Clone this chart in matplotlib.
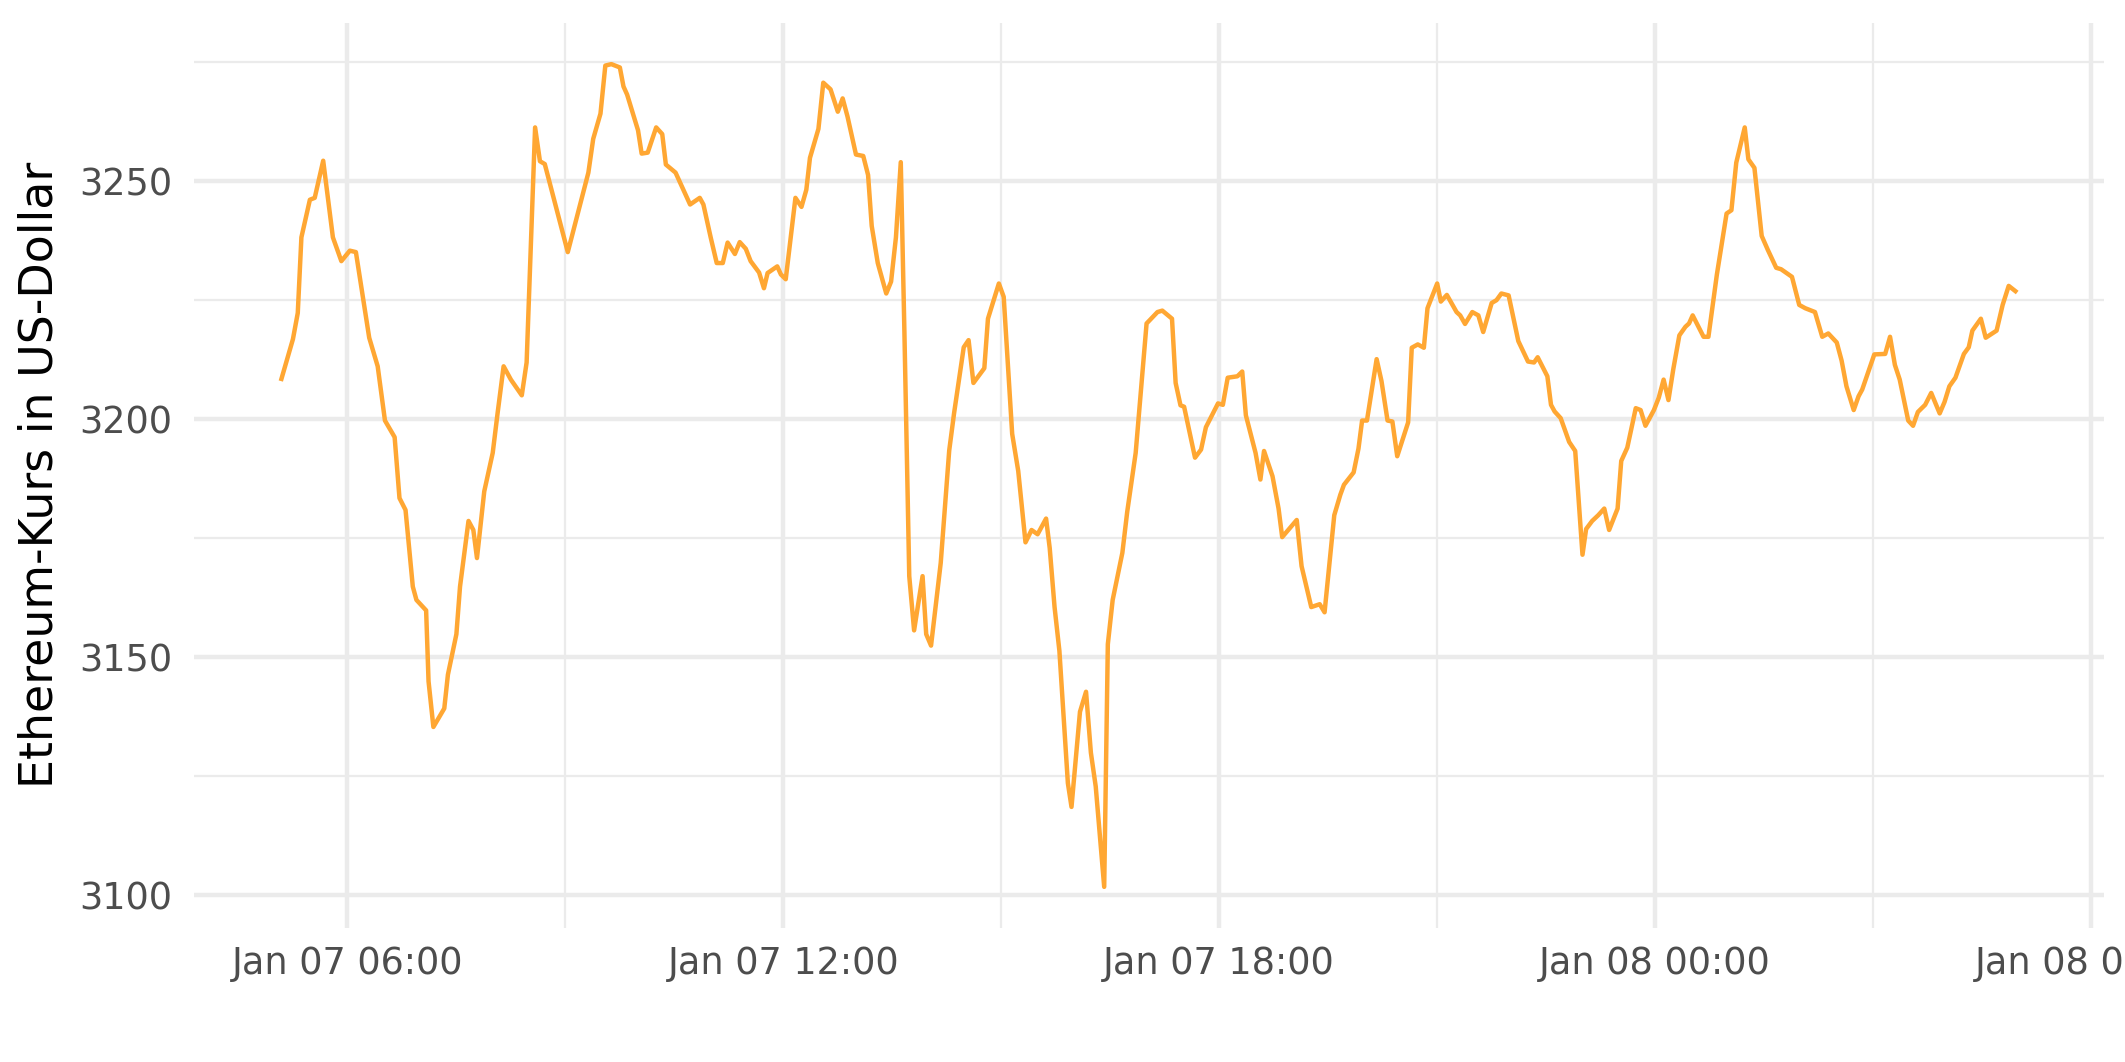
import matplotlib
matplotlib.use("Agg")
import matplotlib.pyplot as plt
import matplotlib.dates as mdates
import matplotlib.ticker as mticker
import pandas as pd

# Ethereum price, Jan 07 -> Jan 08 (times as HH:MM)
times_jan07 = [
    "05:05", "05:15", "05:19", "05:22", "05:29", "05:33", "05:40", "05:48", "05:55", "06:02",
    "06:07", "06:18", "06:25", "06:31", "06:39", "06:43", "06:48", "06:54", "06:57", "07:05",
    "07:07", "07:11", "07:20", "07:23", "07:30", "07:33", "07:40", "07:44", "07:47", "07:53",
    "08:00", "08:04", "08:09", "08:15", "08:24", "08:28", "08:35", "08:39", "08:43", "08:53",
    "09:02", "09:19", "09:23", "09:29", "09:33", "09:38", "09:45", "09:48", "09:51", "10:00",
    "10:03", "10:08", "10:15", "10:20", "10:23", "10:31", "10:43", "10:51", "10:54", "11:00",
    "11:05", "11:10", "11:14", "11:20", "11:24", "11:29", "11:33", "11:40", "11:44", "11:47",
    "11:55", "11:58", "12:02", "12:10", "12:15", "12:19", "12:22", "12:29", "12:33", "12:39",
    "12:45", "12:49", "12:53", "13:00", "13:06", "13:10", "13:13", "13:18", "13:25", "13:29",
    "13:33", "13:37", "13:40", "13:44", "13:48", "13:55", "13:58", "14:02", "14:10", "14:17",
    "14:21", "14:29", "14:33", "14:37", "14:46", "14:49", "14:58", "15:02", "15:09", "15:14",
    "15:20", "15:25", "15:30", "15:37", "15:40", "15:44", "15:48", "15:55", "15:58", "16:05",
    "16:10", "16:14", "16:18", "16:25", "16:28", "16:32", "16:40", "16:44", "16:51", "17:00",
    "17:09", "17:13", "17:21", "17:24", "17:28", "17:31", "17:40", "17:45", "17:49", "17:59",
    "18:03", "18:07", "18:15", "18:19", "18:22", "18:30", "18:34", "18:37", "18:44", "18:49",
    "18:52", "19:04", "19:08", "19:16", "19:23", "19:27", "19:35", "19:40", "19:43", "19:51",
    "19:55", "19:58", "20:02", "20:10", "20:14", "20:19", "20:23", "20:27", "20:36", "20:39",
    "20:44", "20:49", "20:52", "21:00", "21:03", "21:08", "21:16", "21:19", "21:23", "21:29",
    "21:34", "21:38", "21:45", "21:49", "21:53", "21:59", "22:07", "22:15", "22:20", "22:23",
    "22:31", "22:34", "22:37", "22:42", "22:49", "22:54", "23:00", "23:03", "23:08", "23:13",
    "23:18", "23:22", "23:29", "23:32", "23:37", "23:44", "23:48", "23:52", "23:59",
]
prices_jan07 = [
    3208.0, 3216.8, 3222.3, 3238.2, 3246.1, 3246.5, 3254.3, 3238.2, 3233.2, 3235.4,
    3235.1, 3217.1, 3211.1, 3199.7, 3196.2, 3183.4, 3180.9, 3164.8, 3162.0, 3159.8,
    3144.9, 3135.3, 3139.2, 3146.3, 3154.8, 3164.8, 3178.6, 3176.7, 3170.8, 3184.8,
    3192.9, 3201.2, 3211.1, 3208.3, 3205.0, 3211.9, 3261.3, 3254.2, 3253.6, 3243.9,
    3235.1, 3251.8, 3258.9, 3264.2, 3274.3, 3274.6, 3273.9, 3269.9, 3268.2, 3260.7,
    3255.8, 3256.0, 3261.3, 3259.9, 3253.5, 3251.8, 3245.1, 3246.5, 3245.1, 3238.2,
    3232.8, 3232.8, 3237.1, 3234.7, 3237.2, 3235.8, 3233.2, 3230.8, 3227.5, 3230.7,
    3232.1, 3230.4, 3229.4, 3246.5, 3244.6, 3248.2, 3254.9, 3261.0, 3270.7, 3269.3,
    3264.6, 3267.4, 3263.6, 3255.6, 3255.3, 3251.3, 3240.6, 3232.8, 3226.4, 3228.9,
    3238.2, 3254.0, 3218.3, 3167.0, 3155.6, 3167.0, 3154.8, 3152.4, 3169.8, 3193.4,
    3201.2, 3215.1, 3216.6, 3207.6, 3210.7, 3221.1, 3228.5, 3225.7, 3196.9, 3189.1,
    3174.1, 3176.7, 3175.8, 3179.1, 3172.9, 3160.5, 3151.3, 3123.5, 3118.5, 3138.5,
    3142.7, 3129.9, 3122.8, 3101.7, 3152.7, 3162.0, 3171.9, 3180.5, 3192.9, 3220.1,
    3222.5, 3222.8, 3221.1, 3207.6, 3202.9, 3202.6, 3191.9, 3193.6, 3198.3, 3203.3,
    3203.0, 3208.7, 3209.0, 3210.0, 3200.8, 3192.9, 3187.3, 3193.3, 3188.0, 3181.2,
    3175.2, 3178.8, 3169.1, 3160.5, 3161.1, 3159.4, 3179.8, 3184.1, 3186.2, 3188.8,
    3193.8, 3199.7, 3199.7, 3212.6, 3208.0, 3199.7, 3199.5, 3192.2, 3199.3, 3215.0,
    3215.7, 3215.0, 3223.3, 3228.5, 3224.7, 3226.1, 3222.5, 3221.8, 3220.0, 3222.5,
    3221.8, 3218.3, 3224.4, 3225.0, 3226.4, 3226.0, 3216.4, 3212.1, 3211.9, 3213.0,
    3209.0, 3203.0, 3201.6, 3200.2, 3195.2, 3193.3, 3171.5, 3176.9, 3178.6, 3179.8,
    3181.2, 3176.7, 3181.2, 3191.2, 3194.0, 3202.3, 3201.9, 3198.6, 3201.9,
]
times_jan08 = [
    "00:03", "00:07", "00:11", "00:15", "00:20", "00:25", "00:28", "00:31", "00:40", "00:44",
    "00:51", "00:59", "01:03", "01:07", "01:14", "01:17", "01:22", "01:28", "01:33", "01:40",
    "01:44", "01:53", "01:59", "02:04", "02:12", "02:18", "02:23", "02:30", "02:34", "02:38",
    "02:44", "02:48", "02:51", "03:01", "03:10", "03:14", "03:18", "03:22", "03:29", "03:33",
    "03:37", "03:43", "03:48", "03:55", "03:59", "04:03", "04:08", "04:15", "04:19", "04:22",
    "04:29", "04:33", "04:42", "04:47", "04:52", "04:59",
]
prices_jan08 = [
    3204.5, 3208.3, 3204.0, 3210.5, 3217.6, 3219.4, 3220.1, 3221.8, 3217.3, 3217.3,
    3230.4, 3243.2, 3243.9, 3253.9, 3261.3, 3254.6, 3252.8, 3238.5, 3235.6, 3231.8,
    3231.5, 3229.9, 3224.0, 3223.3, 3222.5, 3217.3, 3218.0, 3216.1, 3212.3, 3206.9,
    3201.9, 3204.8, 3206.2, 3213.6, 3213.7, 3217.3, 3211.4, 3208.3, 3199.7, 3198.6,
    3201.5, 3203.0, 3205.5, 3201.2, 3203.6, 3206.9, 3208.7, 3213.7, 3215.1, 3218.6,
    3221.1, 3217.1, 3218.6, 3224.0, 3228.0, 3226.6,
]

y_major = [3100, 3150, 3200, 3250]
y_minor = [3125, 3175, 3225, 3275]
y_title = "Ethereum-Kurs in US-Dollar"

timestamps = pd.to_datetime(["2025-01-07 " + t for t in times_jan07] +
                            ["2025-01-08 " + t for t in times_jan08])
prices = prices_jan07 + prices_jan08

plt.rcParams["font.family"] = ["DejaVu Sans"]

W, H = 2125, 1062
fig = plt.figure(figsize=(W / 300, H / 300), dpi=300)
left, right, top, bottom = 194, 2104, 23, 928
ax = fig.add_axes([left / W, 1 - bottom / H, (right - left) / W, (bottom - top) / H])

ax.plot(timestamps, prices, color="#FFA733", lw=1.07, solid_joinstyle="round",
        solid_capstyle="butt", zorder=3)
ax.margins(x=0.05, y=0.05)

ax.xaxis.set_major_locator(mdates.HourLocator(byhour=[0, 6, 12, 18]))
ax.xaxis.set_minor_locator(mdates.HourLocator(byhour=[3, 9, 15, 21]))
ax.xaxis.set_major_formatter(mdates.DateFormatter("%b %d %H:%M"))
ax.yaxis.set_major_locator(mticker.FixedLocator(y_major))
ax.yaxis.set_minor_locator(mticker.FixedLocator(y_minor))
ax.yaxis.set_major_formatter(mticker.FuncFormatter(lambda v, p: f"{v:.0f}"))

ax.grid(which="major", color="#EBEBEB", lw=1.07)
ax.grid(which="minor", color="#EBEBEB", lw=0.53)
ax.set_axisbelow(True)
for s in ax.spines.values():
    s.set_visible(False)
ax.tick_params(which="both", length=0)
ax.tick_params(axis="x", which="major", labelsize=8.8, labelcolor="#4D4D4D", pad=4.2)
ax.tick_params(axis="y", which="major", labelsize=8.8, labelcolor="#4D4D4D", pad=5.2)

fig.text(40 / W, 1 - 475 / H, y_title, rotation=90, fontsize=11, color="black",
         ha="center", va="center")

fig.savefig("out.png", dpi=300, facecolor="white")
